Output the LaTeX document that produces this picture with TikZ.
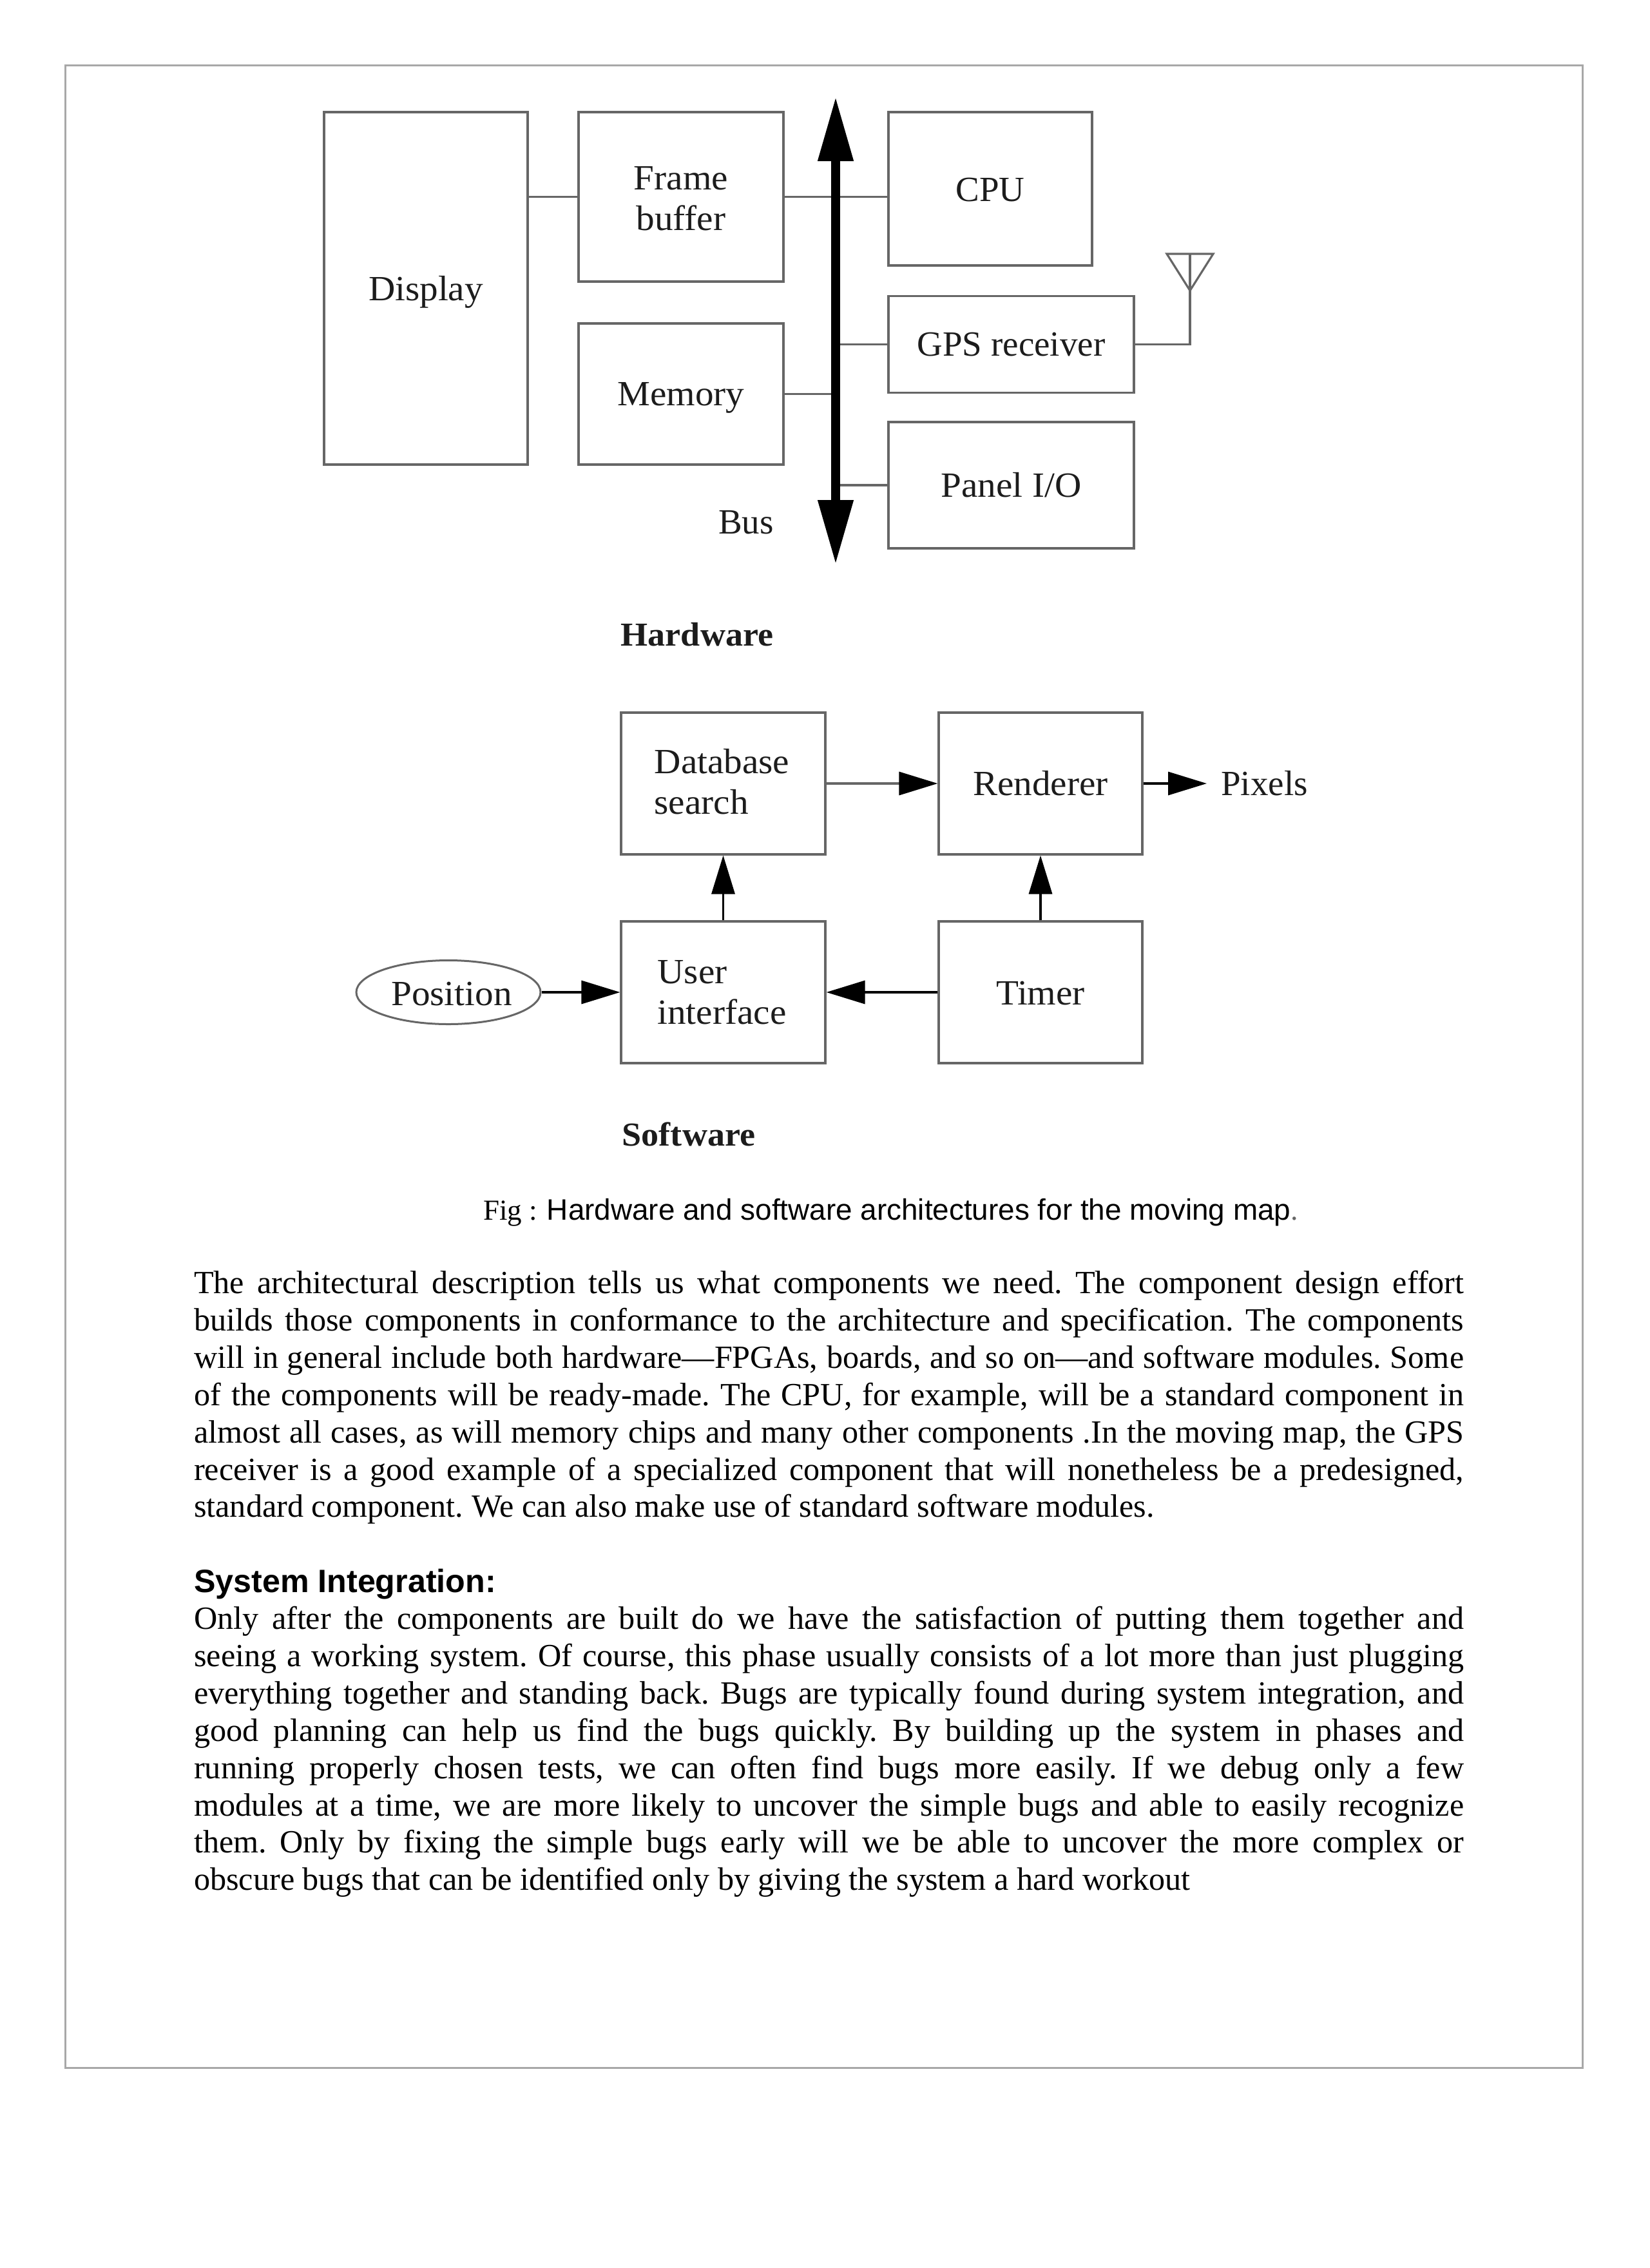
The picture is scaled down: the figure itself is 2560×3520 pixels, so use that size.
\documentclass[tikz,border=0pt]{standalone}
\usepackage{fontspec}
\setmainfont{Liberation Serif}
\newfontfamily\arialfont{Liberation Sans}
\newfontfamily\diagfont[FakeStretch=1.04]{Liberation Serif}
\usetikzlibrary{arrows.meta,shapes.geometric}
\definecolor{boxgray}{HTML}{666666}
\definecolor{inkdark}{HTML}{1C1C1C}
\definecolor{framegray}{HTML}{A8A8A8}
\tikzset{
  box/.style={draw=boxgray,line width=3.2pt,rectangle,inner sep=0pt},
  lab/.style={inner sep=0pt,text=inkdark,align=center,font=\diagfont\fontsize{55}{63}\selectfont},
  labplain/.style={inner sep=0pt,text=inkdark,align=center,font=\fontsize{55}{63}\selectfont},
  boldlab/.style={inner sep=0pt,text=inkdark,font=\diagfont\fontsize{52}{62}\selectfont\bfseries},
  wire/.style={draw=boxgray,line width=3.2pt},
  flow/.style={draw=black,line width=3.4pt,-{Triangle[length=60pt,width=36pt,color=black]}},
  busline/.style={draw=black,line width=14pt,{Triangle[length=100pt,width=52pt]}-{Triangle[length=100pt,width=52pt]}},
  bodytext/.style={inner sep=0pt,anchor=north west,text=black},
}
\begin{document}
\begin{tikzpicture}[x=1pt,y=-1pt]
\useasboundingbox (0,0) rectangle (2560,3520);
\fill[white] (0,0) rectangle (2560,3520);
\coordinate (frameTL) at (101,101);
\coordinate (frameBR) at (2456,3209);
\draw[framegray,line width=3pt] (frameTL) rectangle (frameBR);

% Hardware
\node[box,minimum width=316pt,minimum height=547pt] (display) at (661,447.5) {};
\node[box,minimum width=318pt,minimum height=263pt] (fb) at (1057,305.5) {};
\node[box,minimum width=318pt,minimum height=219pt] (mem) at (1057,611.5) {};
\node[box,minimum width=316pt,minimum height=238pt] (cpu) at (1537,293) {};
\node[box,minimum width=381pt,minimum height=150pt] (gps) at (1569.5,534.5) {};
\node[box,minimum width=381pt,minimum height=196pt] (panel) at (1569.5,753) {};
\node[lab,yshift=-6pt] (displaytxt) at (display) {Display};
\node[lab,yshift=-3pt] (fbtxt) at (fb) {Frame\\buffer};
\node[lab,yshift=-6pt] (memtxt) at (mem) {Memory};
\node[labplain,yshift=-2pt] (cputxt) at (cpu) {CPU};
\node[labplain] (gpstxt) at (gps) {GPS receiver};
\node[lab] (paneltxt) at (panel) {Panel I/O};
\coordinate (bustop) at (1297,150);
\coordinate (busbot) at (1297,876);
\draw[wire] (fb.west) -- (fb.west -| display.east);
\draw[wire] (fb.east) -- (fb.east -| cpu.west);
\draw[wire] (mem.east) -- (mem.east -| bustop);
\draw[wire] (gps.west) -- (gps.west -| bustop);
\draw[wire] (panel.west) -- (panel.west -| bustop);
\draw[busline] (bustop) -- (busbot);
\node[labplain] (bus) at (1158,811) {Bus};
\coordinate (antL) at (1811,394);
\coordinate (antR) at (1883,394);
\coordinate (antTip) at (1847,451);
\coordinate (antTop) at (1847,394);
\draw[wire] (gps.east) -- (gps.east -| antTip) -- (antTop);
\draw[wire,line join=miter] (antL) -- (antR) -- (antTip) -- cycle;
\node[boldlab] (hw) at (1082,985) {Hardware};

% Software
\node[box,minimum width=317pt,minimum height=220pt] (db) at (1122.5,1216) {};
\node[box,minimum width=316pt,minimum height=220pt] (rend) at (1615,1216) {};
\node[box,minimum width=317pt,minimum height=220pt] (ui) at (1122.5,1540) {};
\node[box,minimum width=316pt,minimum height=220pt] (timer) at (1615,1540) {};
\node[lab,yshift=3pt,xshift=-2pt,align=left] (dbtxt) at (db) {Database\\search};
\node[lab] (rendtxt) at (rend) {Renderer};
\node[lab,yshift=0pt,xshift=-2pt,align=left] (uitxt) at (ui) {User\\interface};
\node[lab,yshift=-2pt] (timertxt) at (timer) {Timer};
\node[draw=boxgray,line width=3pt,ellipse,inner sep=0pt,minimum width=286pt,minimum height=99pt] (pos) at (696,1540) {};
\node[lab,yshift=-3pt,xshift=5pt] (postxt) at (pos) {Position};
\node[labplain,anchor=west] (pix) at (1895,1216) {Pixels};
\draw[flow,draw=boxgray] (db.east) -- (rend.west);
\draw[flow,shorten >=22pt] (rend.east) -- (pix.west);
\draw[flow] (ui.north) -- (db.south);
\draw[flow] (timer.north) -- (rend.south);
\draw[flow] (timer.west) -- (ui.east);
\draw[flow] (pos.east) -- (ui.west);
\node[boldlab] (sw) at (1069,1760) {Software};

% Caption
\node[inner sep=0pt,anchor=base west,text=black] (cap) at (750,1893) {{\fontsize{45}{55}\selectfont Fig : }{\arialfont\fontsize{45.85}{55}\selectfont Hardware and software architectures for the moving map}{\fontsize{46}{55}\selectfont\color{boxgray}.}};

% Body
\node[bodytext] (para1) at (301,1972) {\begin{minipage}[t]{1971pt}\fontsize{50.2}{57.9}\selectfont\sloppy\frenchspacing\parindent=0pt
The architectural description tells us what components we need. The component design effort\linebreak
builds those components in conformance to the architecture and specification. The components\linebreak
will in general include both hardware---FPGAs, boards, and so on---and software modules. Some\linebreak
of the components will be ready-made. The CPU, for example, will be a standard component in\linebreak
almost all cases, as will memory chips and many other components .In the moving map, the GPS\linebreak
receiver is a good example of a specialized component that will nonetheless be a predesigned,\linebreak
standard component. We can also make use of standard software modules.
\end{minipage}};
\node[inner sep=0pt,anchor=base west,text=black,font=\arialfont\bfseries\fontsize{50.2}{58}\selectfont] (head) at (301,2471) {System Integration:};
\node[bodytext] (para2) at (301,2493) {\begin{minipage}[t]{1971pt}\fontsize{50.2}{57.9}\selectfont\sloppy\frenchspacing\parindent=0pt
Only after the components are built do we have the satisfaction of putting them together and\linebreak
seeing a working system. Of course, this phase usually consists of a lot more than just plugging\linebreak
everything together and standing back. Bugs are typically found during system integration, and\linebreak
good planning can help us find the bugs quickly. By building up the system in phases and\linebreak
running properly chosen tests, we can often find bugs more easily. If we debug only a few\linebreak
modules at a time, we are more likely to uncover the simple bugs and able to easily recognize\linebreak
them. Only by fixing the simple bugs early will we be able to uncover the more complex or\linebreak
obscure bugs that can be identified only by giving the system a hard workout
\end{minipage}};
\end{tikzpicture}
\end{document}
